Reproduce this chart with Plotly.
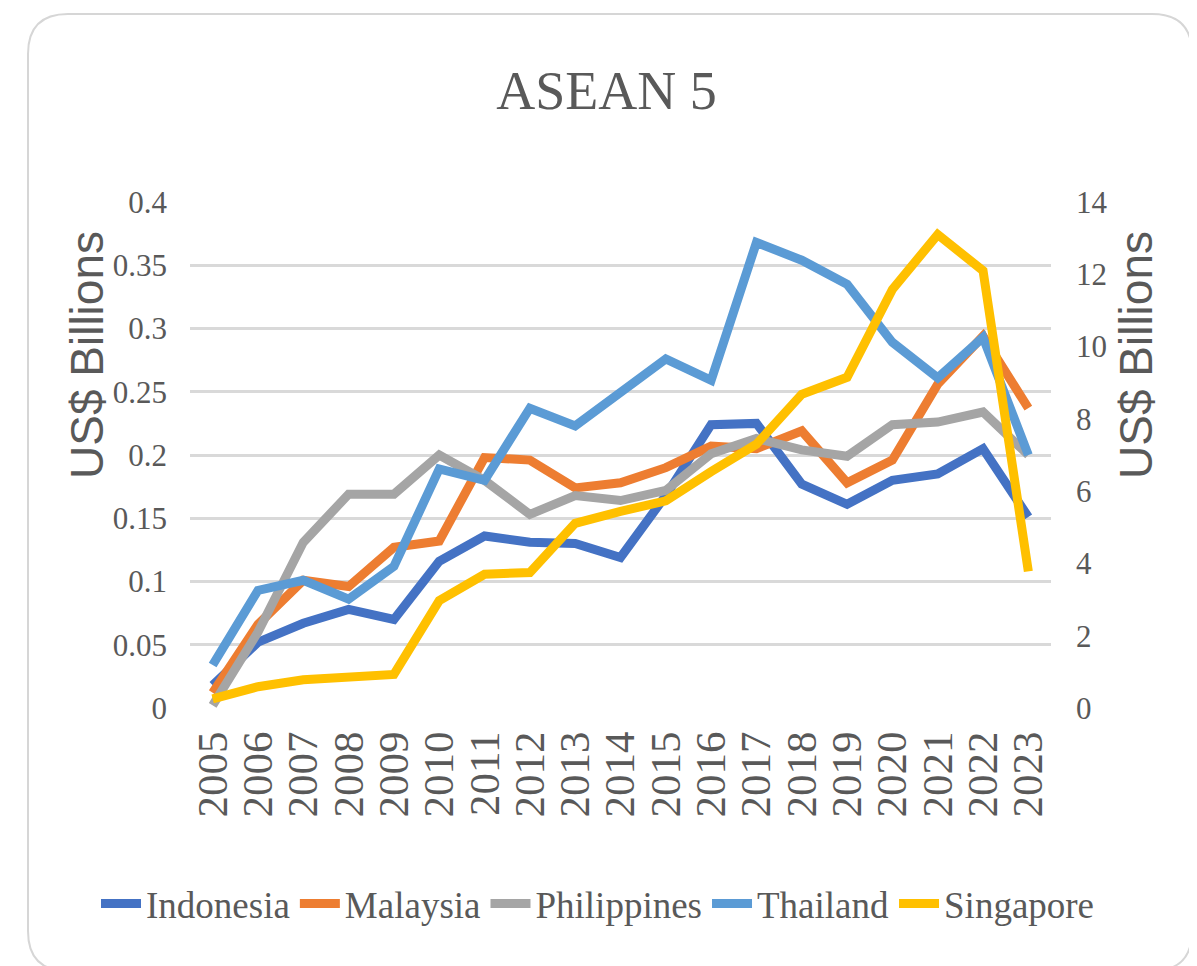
import plotly.graph_objects as go

years = [str(y) for y in range(2005, 2024)]
indonesia = [0.018, 0.052, 0.067, 0.078, 0.070, 0.116, 0.136, 0.131, 0.130, 0.119, 0.168, 0.224, 0.225, 0.177, 0.161, 0.180, 0.185, 0.205, 0.151]
malaysia = [0.012, 0.066, 0.101, 0.096, 0.127, 0.132, 0.198, 0.196, 0.174, 0.178, 0.190, 0.207, 0.205, 0.219, 0.178, 0.196, 0.256, 0.294, 0.237]
philippines = [0.002, 0.060, 0.131, 0.169, 0.169, 0.200, 0.180, 0.153, 0.168, 0.164, 0.172, 0.201, 0.213, 0.204, 0.199, 0.224, 0.226, 0.234, 0.200]
thailand = [0.034, 0.093, 0.101, 0.086, 0.112, 0.189, 0.180, 0.237, 0.223, 0.250, 0.276, 0.259, 0.368, 0.354, 0.335, 0.289, 0.261, 0.293, 0.200]
singapore = [0.25, 0.59, 0.78, 0.88, 0.93, 2.97, 3.70, 3.75, 5.11, 5.44, 5.73, 6.54, 7.30, 8.68, 9.15, 11.58, 13.10, 12.10, 3.78]

colors = {"Indonesia": "#4472C4", "Malaysia": "#ED7D31", "Philippines": "#A5A5A5",
          "Thailand": "#5B9BD5", "Singapore": "#FFC000"}

W, H = 1197, 966
L, R, T, B = 182, 1043, 194, 700  # plot area in pixels

TXT = "#595959"
SERIF = "Liberation Serif, Times New Roman, serif"
SANS = "Liberation Sans, Arial, sans-serif"

fig = go.Figure()
for name, vals in [("Indonesia", indonesia), ("Malaysia", malaysia),
                   ("Philippines", philippines), ("Thailand", thailand)]:
    fig.add_trace(go.Scatter(x=years, y=vals, name=name, mode="lines",
                             line=dict(color=colors[name], width=9)))
fig.add_trace(go.Scatter(x=years, y=singapore, name="Singapore", mode="lines",
                         yaxis="y2", line=dict(color=colors["Singapore"], width=9)))

def px(x):
    return (x - L) / (R - L)

def py(y):
    return (B - y) / (B - T)

# rounded outer border
x0, x1, y0, y1, r = 20, 1184, 6, 963, 40
path = (f"M {px(x0 + r)},{py(y0)} L {px(x1 - r)},{py(y0)} "
        f"Q {px(x1)},{py(y0)} {px(x1)},{py(y0 + r)} "
        f"L {px(x1)},{py(y1 - r)} Q {px(x1)},{py(y1)} {px(x1 - r)},{py(y1)} "
        f"L {px(x0 + r)},{py(y1)} Q {px(x0)},{py(y1)} {px(x0)},{py(y1 - r)} "
        f"L {px(x0)},{py(y0 + r)} Q {px(x0)},{py(y0)} {px(x0 + r)},{py(y0)} Z")

axis_title_font = dict(family=SANS, size=46, color=TXT)

fig.update_layout(
    width=W, height=H,
    margin=dict(l=L, r=W - R, t=T, b=H - B, autoexpand=False),
    paper_bgcolor="white", plot_bgcolor="white",
    title=dict(text="ASEAN 5", x=0.5, xanchor="center", xref="container",
               y=1 - 82 / H, yanchor="middle", yref="container",
               font=dict(family=SERIF, size=54, color=TXT)),
    xaxis=dict(type="category", range=[-0.5, 18.5], tickangle=-90,
               tickmode="array", tickvals=years, ticktext=years,
               tickfont=dict(family=SERIF, size=43, color=TXT),
               showgrid=False, showline=False, zeroline=False,
               ticks="", ticklabelstandoff=14),
    yaxis=dict(range=[0, 0.4], dtick=0.05, showgrid=True, gridcolor="#D9D9D9",
               gridwidth=3, zeroline=False, showline=False,
               tickfont=dict(family=SERIF, size=31, color=TXT),
               ticklabelstandoff=22),
    yaxis2=dict(range=[0, 14], dtick=2, overlaying="y", side="right",
                showgrid=False, zeroline=False, showline=False,
                tickfont=dict(family=SERIF, size=31, color=TXT),
                ticklabelstandoff=24),
    legend=dict(orientation="h", xref="paper", x=px(88), xanchor="left",
                y=py(896), yanchor="middle",
                font=dict(family=SERIF, size=37, color=TXT), itemwidth=40,
                bgcolor="rgba(0,0,0,0)"),
    annotations=[
        dict(text="US$ Billions", textangle=-90, xref="paper", yref="paper",
             x=px(79), y=py(347), xanchor="center", yanchor="middle",
             showarrow=False, font=axis_title_font),
        dict(text="US$ Billions", textangle=-90, xref="paper", yref="paper",
             x=px(1128), y=py(347), xanchor="center", yanchor="middle",
             showarrow=False, font=axis_title_font),
    ],
    shapes=[dict(type="path", path=path, xref="paper", yref="paper",
                 line=dict(color="#D6D6D6", width=2), layer="below")],
)

fig.write_html("out.html")
